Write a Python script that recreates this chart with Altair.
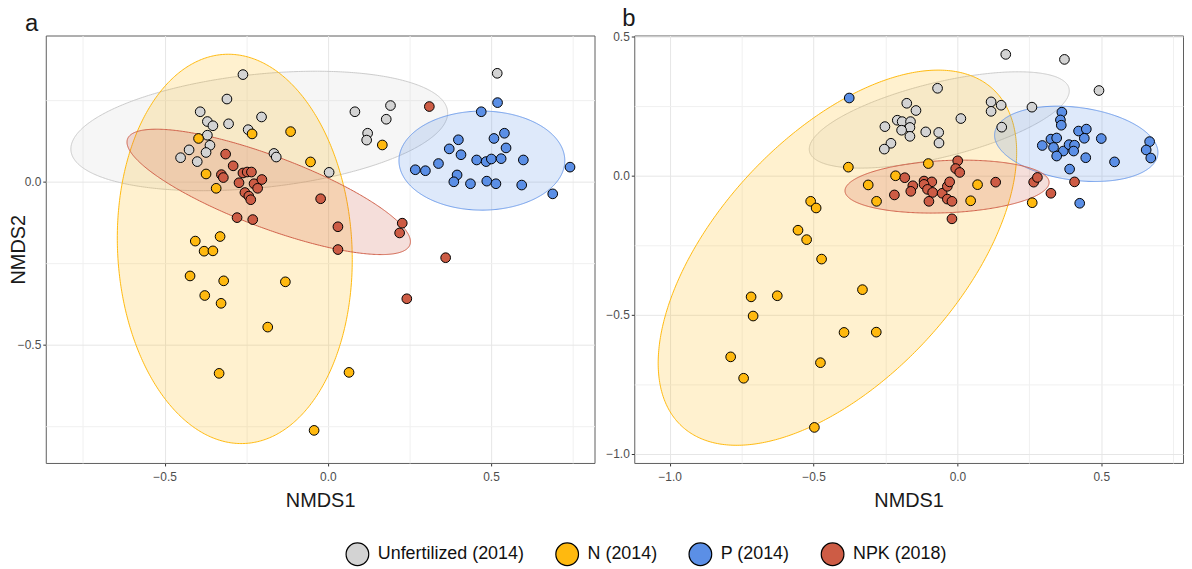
import altair as alt
import numpy as np
import pandas as pd

GROUPS = ["Unfertilized (2014)", "N (2014)", "P (2014)", "NPK (2018)"]
POINT_COLORS = ["#D3D3D3", "#FFB90F", "#5B8FE6", "#CD5C45"]
ELLIPSE_STROKES = ["#CBCBCB", "#FFB90F", "#6D9BEA", "#D0604A"]

# ---------------- panel a : points ----------------
a_unf_x = [-0.260, -0.309, -0.391, -0.369, -0.352, -0.304, -0.203, -0.244, -0.369, -0.361, -0.425, -0.451,
           -0.400, -0.373, -0.165, -0.158, 0.519, 0.192, 0.083, 0.179, 0.122, 0.119, 0.004]
a_unf_y = [0.329, 0.254, 0.215, 0.185, 0.172, 0.178, 0.199, 0.160, 0.143, 0.112, 0.098, 0.074,
           0.062, 0.090, 0.087, 0.076, 0.333, 0.234, 0.215, 0.192, 0.149, 0.128, 0.029]
a_n_x = [-0.232, -0.114, -0.396, -0.053, -0.373, -0.342, -0.330, -0.406, -0.379, -0.352, -0.422, -0.319,
         -0.130, -0.377, -0.327, -0.184, -0.333, 0.065, -0.042, 0.167]
a_n_y = [0.147, 0.154, 0.133, 0.061, 0.024, -0.020, -0.168, -0.182, -0.213, -0.212, -0.289, -0.304,
         -0.307, -0.349, -0.373, -0.446, -0.588, -0.585, -0.763, 0.113]
a_p_x = [0.520, 0.470, 0.400, 0.509, 0.541, 0.546, 0.372, 0.408, 0.456, 0.485, 0.501, 0.531, 0.599,
         0.268, 0.299, 0.339, 0.742, 0.396, 0.386, 0.437, 0.487, 0.515, 0.594, 0.689]
a_p_y = [0.243, 0.215, 0.129, 0.133, 0.149, 0.104, 0.101, 0.083, 0.067, 0.062, 0.070, 0.071, 0.067,
         0.037, 0.034, 0.056, 0.045, 0.021, 0.000, -0.006, 0.002, -0.006, -0.010, -0.037]
a_npk_x = [-0.313, -0.290, -0.326, -0.320, -0.260, -0.247, -0.234, -0.272, -0.226, -0.202, -0.215, -0.254,
           -0.242, -0.236, -0.278, -0.230, -0.022, 0.311, 0.031, 0.031, 0.228, 0.220, 0.361, 0.242]
a_npk_y = [0.085, 0.049, 0.022, 0.013, 0.027, 0.030, 0.030, -0.003, -0.006, 0.007, -0.020, -0.033,
           -0.044, -0.055, -0.110, -0.116, -0.052, 0.231, -0.138, -0.208, -0.127, -0.157, -0.233, -0.359]

# ---------------- panel b : points ----------------
b_unf_x = [0.168, 0.372, 0.492, -0.069, -0.176, -0.144, 0.117, 0.117, 0.152, 0.259, 0.012, 0.154,
           -0.209, -0.192, -0.163, -0.165, -0.194, -0.165, -0.110, -0.065, -0.064, -0.252, -0.231, -0.254]
b_unf_y = [0.437, 0.419, 0.307, 0.315, 0.261, 0.235, 0.266, 0.232, 0.254, 0.247, 0.206, 0.175,
           0.200, 0.195, 0.195, 0.174, 0.164, 0.142, 0.158, 0.156, 0.118, 0.177, 0.117, 0.096]
b_n_x = [-0.379, -0.310, -0.281, -0.215, -0.510, -0.491, -0.554, -0.524, -0.472, -0.717, -0.626, -0.710,
         -0.330, -0.394, -0.282, -0.788, -0.476, -0.743, -0.497, -0.101, 0.070, 0.046, 0.260]
b_n_y = [0.031, -0.033, -0.092, 0.000, -0.092, -0.116, -0.196, -0.230, -0.300, -0.436, -0.432, -0.505,
         -0.410, -0.564, -0.563, -0.652, -0.673, -0.729, -0.906, 0.044, -0.032, -0.090, -0.097]
b_p_x = [0.363, 0.358, 0.361, 0.421, 0.448, 0.441, 0.500, 0.325, 0.345, 0.295, 0.334, 0.368, 0.388,
         0.407, 0.404, 0.345, 0.446, 0.546, 0.390, 0.668, 0.656, 0.672, 0.425, -0.376]
b_p_y = [0.229, 0.201, 0.182, 0.161, 0.168, 0.135, 0.134, 0.132, 0.136, 0.109, 0.102, 0.089, 0.112,
         0.110, 0.089, 0.071, 0.065, 0.050, 0.024, 0.123, 0.093, 0.064, -0.099, 0.280]
b_npk_x = [0.001, -0.006, 0.008, -0.183, -0.219, -0.155, -0.162, -0.116, -0.089, -0.116, -0.104, -0.086,
           -0.053, -0.035, -0.027, -0.099, -0.035, -0.019, -0.019, 0.133, 0.265, 0.278, 0.325, 0.407]
b_npk_y = [0.054, 0.026, 0.012, -0.007, -0.069, -0.036, -0.056, -0.019, -0.022, -0.031, -0.049, -0.060,
           -0.063, -0.038, -0.022, -0.092, -0.084, -0.092, -0.155, -0.023, -0.023, -0.006, -0.063, -0.022]

# ---------------- ellipses (centre x, centre y, semi-major, semi-minor, angle in degrees) ----------------
a_ell_cx = [-0.210, -0.285, 0.472, -0.181]
a_ell_cy = [0.156, -0.206, 0.065, -0.031]
a_ell_a = [0.580, 0.598, 0.254, 0.462]
a_ell_b = [0.174, 0.359, 0.152, 0.110]
a_ell_ang = [6.0, 93.0, 0.0, -20.6]

b_ell_cx = [-0.063, -0.417, 0.413, -0.036]
b_ell_cy = [0.201, -0.295, 0.115, -0.039]
b_ell_a = [0.465, 0.813, 0.286, 0.355]
b_ell_b = [0.134, 0.428, 0.131, 0.094]
b_ell_ang = [14.3, 49.1, -7.9, 2.6]

# axis ranges / tick values
a_xdom = [-0.864, 0.817]
a_ydom = [-0.863, 0.449]
b_xdom = [-1.123, 0.784]
b_ydom = [-1.034, 0.505]
a_xvals = [-0.75, -0.5, -0.25, 0.0, 0.25, 0.5, 0.75]
a_yvals = [-0.75, -0.5, -0.25, 0.0, 0.25]
b_xvals = [-1.0, -0.75, -0.5, -0.25, 0.0, 0.25, 0.5, 0.75]
b_yvals = [-1.0, -0.75, -0.5, -0.25, 0.0, 0.25, 0.5]


def points_df(xs, ys):
    rows = []
    for g, (x, y) in zip(GROUPS, zip(xs, ys)):
        for xi, yi in zip(x, y):
            rows.append({"group": g, "x": xi, "y": yi})
    return pd.DataFrame(rows)


def ellipse_df(cx, cy, a, b, ang):
    t = np.deg2rad(ang)
    c, s = np.cos(t), np.sin(t)
    A = s * s / a ** 2 + c * c / b ** 2
    wx = np.sqrt(a ** 2 * c * c + b ** 2 * s * s)
    u = -wx * np.cos(np.linspace(0, np.pi, 241))
    B = 2 * u * s * c * (1 / a ** 2 - 1 / b ** 2)
    C = u ** 2 * (c * c / a ** 2 + s * s / b ** 2) - 1
    disc = np.clip(B * B - 4 * A * C, 0, None)
    v1 = (-B + np.sqrt(disc)) / (2 * A)
    v2 = (-B - np.sqrt(disc)) / (2 * A)
    return pd.DataFrame({"x": cx + u, "lo": cy + v2, "hi": cy + v1})


MAJOR = "abs(datum.value*2 - round(datum.value*2)) < 0.001"


def make_axis(vals, title, with_title=True, **kw):
    args = dict(
        values=vals,
        labelExpr=f"{MAJOR} ? format(datum.value, '.1f') : ''",
        tickOpacity={"condition": {"test": MAJOR, "value": 1}, "value": 0},
        gridColor={"condition": {"test": MAJOR, "value": "#E6E6E6"}, "value": "#F0F0F0"},
        grid=True,
        domain=False,
        tickSize=3,
        tickColor="#333333",
        labelColor="#4D4D4D",
        labelFontSize=12,
        titleFontSize=20,
        titleFontWeight="normal",
        titleColor="#1A1A1A",
    )
    args.update(kw)
    args["title"] = title if with_title else None
    return alt.Axis(**args)


def panel(label, pxs, pys, ecx, ecy, ea, eb, eang, xdom, ydom, xvals, yvals, yaxis, title_dx):
    xsc = alt.Scale(domain=xdom, nice=False, zero=False)
    ysc = alt.Scale(domain=ydom, nice=False, zero=False)
    layers = []
    for i in range(4):
        edf = ellipse_df(ecx[i], ecy[i], ea[i], eb[i], eang[i])
        layers.append(
            alt.Chart(edf).mark_area(
                fill=POINT_COLORS[i], fillOpacity=0.2, stroke=ELLIPSE_STROKES[i],
                strokeWidth=1, clip=True, interpolate="linear"
            ).encode(
                x=alt.X("x:Q", scale=xsc, axis=make_axis(xvals, "NMDS1", labelPadding=6, titlePadding=8)),
                y=alt.Y("lo:Q", scale=ysc, stack=None, axis=yaxis),
                y2="hi:Q",
            )
        )
    pdf = points_df(pxs, pys)
    pdf["order"] = pdf["group"].map({g: k for k, g in enumerate(GROUPS)})
    pts = alt.Chart(pdf).mark_point(
        filled=True, shape="circle", size=95, stroke="black", strokeWidth=1, opacity=1, clip=True
    ).encode(
        x=alt.X("x:Q", scale=xsc),
        y=alt.Y("y:Q", scale=ysc),
        color=alt.Color(
            "group:N",
            scale=alt.Scale(domain=GROUPS, range=POINT_COLORS),
            legend=alt.Legend(
                title=None, orient="none", direction="horizontal", legendX=301, legendY=509,
                symbolType="circle", symbolSize=520, symbolStrokeColor="black", symbolStrokeWidth=1.2,
                symbolOpacity=1, labelFontSize=18, labelColor="#111111", labelOffset=8,
                columnPadding=28, padding=0,
            ),
        ),
        order=alt.Order("order:Q"),
    )
    layers.append(pts)
    return alt.layer(*layers).properties(
        width=552, height=430,
        title=alt.TitleParams(label, anchor="start", frame="group", dx=title_dx, fontSize=24,
                              fontWeight="normal", color="#1A1A1A", offset=0),
    )


ya = make_axis(a_yvals, "NMDS2", labelPadding=2, minExtent=17, maxExtent=17, titlePadding=0)
yb = make_axis(b_yvals, None, with_title=False, labelPadding=2)

pa = panel("a", [a_unf_x, a_n_x, a_p_x, a_npk_x], [a_unf_y, a_n_y, a_p_y, a_npk_y],
           a_ell_cx, a_ell_cy, a_ell_a, a_ell_b, a_ell_ang, a_xdom, a_ydom, a_xvals, a_yvals, ya, -21)
pb = panel("b", [b_unf_x, b_n_x, b_p_x, b_npk_x], [b_unf_y, b_n_y, b_p_y, b_npk_y],
           b_ell_cx, b_ell_cy, b_ell_a, b_ell_b, b_ell_ang, b_xdom, b_ydom, b_xvals, b_yvals, yb, -12)

chart = alt.hconcat(pa, pb, spacing=9).properties(
    padding={"left": 0, "top": -4, "right": 0, "bottom": 0}
).configure(
    font="Liberation Sans"
).configure_view(stroke="#5E5E5E", strokeWidth=1).configure_axis(labelFont="Liberation Sans", labelColor="#4D4D4D")

chart.save("out.html", embed_options={"renderer": "svg", "actions": False})
